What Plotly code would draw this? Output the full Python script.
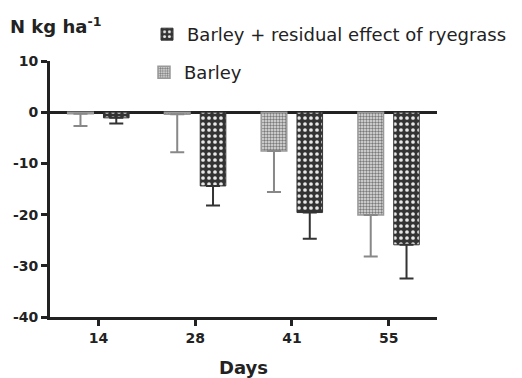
import plotly.graph_objects as go

days = ["14", "28", "41", "55"]
barley = [-0.3, -0.4, -7.6, -20.1]
barley_err = [2.4, 7.4, 8.0, 8.1]
barley_rye = [-1.1, -14.4, -19.6, -25.9]
barley_rye_err = [1.1, 3.8, 5.1, 6.6]
y_tickvals = [10, 0, -10, -20, -30, -40]
y_ticktext = ["10", "0", "-10", "-20", "-30", "-40"]

FONT = "DejaVu Sans"
W, H = 522, 378
ML, MR, MT, MB = 50, 85, 61, 61
PW, PH = W - ML - MR, H - MT - MB

def px_x(p):
    return (p - ML) / PW

def px_y(p):
    return (H - MB - p) / PH

fig = go.Figure()
fig.add_trace(go.Bar(
    x=days, y=barley, name="Barley", legend="legend2", showlegend=True,
    marker=dict(color="#dddddd", line=dict(color="#999999", width=1.5),
                pattern=dict(shape=".", fgcolor="#7a7a7a", bgcolor="#e4e4e4",
                             size=3, solidity=0.5, fillmode="replace")),
    error_y=dict(type="data", symmetric=False, array=[0]*4, arrayminus=barley_err,
                 color="#888888", thickness=2, width=7),
))
fig.add_trace(go.Bar(
    x=days, y=barley_rye, name="Barley + residual effect of ryegrass", legend="legend",
    showlegend=True,
    marker=dict(color="#333333", line=dict(color="#333333", width=1),
                pattern=dict(shape=".", fgcolor="#e8e8e8", bgcolor="#333333",
                             size=6, solidity=0.3, fillmode="replace")),
    error_y=dict(type="data", symmetric=False, array=[0]*4, arrayminus=barley_rye_err,
                 color="#333333", thickness=2, width=7),
))

fig.update_layout(
    width=W, height=H,
    margin=dict(l=ML, r=MR, t=MT, b=MB, autoexpand=False),
    paper_bgcolor="white", plot_bgcolor="white",
    showlegend=True,
    barmode="group", bargap=0.26, bargroupgap=0.285,
    font=dict(family=FONT, color="#222222"),
    title=dict(text="N kg ha<sup>-1</sup>", x=10 / W, xanchor="left", xref="container",
               y=1 - 27 / H, yanchor="middle", yref="container",
               font=dict(family=FONT, size=18, weight="bold", color="#222222")),
    legend=dict(x=px_x(147), y=px_y(16), xanchor="left", yanchor="top",
                font=dict(family=FONT, size=18, color="#222222"),
                bgcolor="rgba(0,0,0,0)", borderwidth=0),
    legend2=dict(x=px_x(144), y=px_y(54), xanchor="left", yanchor="top",
                 font=dict(family=FONT, size=18, color="#222222"),
                 bgcolor="rgba(0,0,0,0)", borderwidth=0),
    xaxis=dict(
        type="category", range=[-0.5, 3.5],
        showline=True, linecolor="#222222", linewidth=3,
        ticks="outside", ticklen=6, tickwidth=3, tickcolor="#222222",
        tickfont=dict(family=FONT, size=14, weight="bold", color="#222222"),
        showgrid=False, zeroline=False,
        title=dict(text="Days", standoff=20,
                   font=dict(family=FONT, size=18, weight="bold", color="#222222")),
    ),
    yaxis=dict(
        range=[-40, 10], tickvals=y_tickvals, ticktext=y_ticktext,
        showline=True, linecolor="#222222", linewidth=3,
        ticks="outside", ticklen=6, tickwidth=3, tickcolor="#222222",
        tickfont=dict(family=FONT, size=14, weight="bold", color="#222222"),
        showgrid=False, zeroline=True, zerolinecolor="#222222", zerolinewidth=2.5,
    ),
)

fig.write_html("out.html")
